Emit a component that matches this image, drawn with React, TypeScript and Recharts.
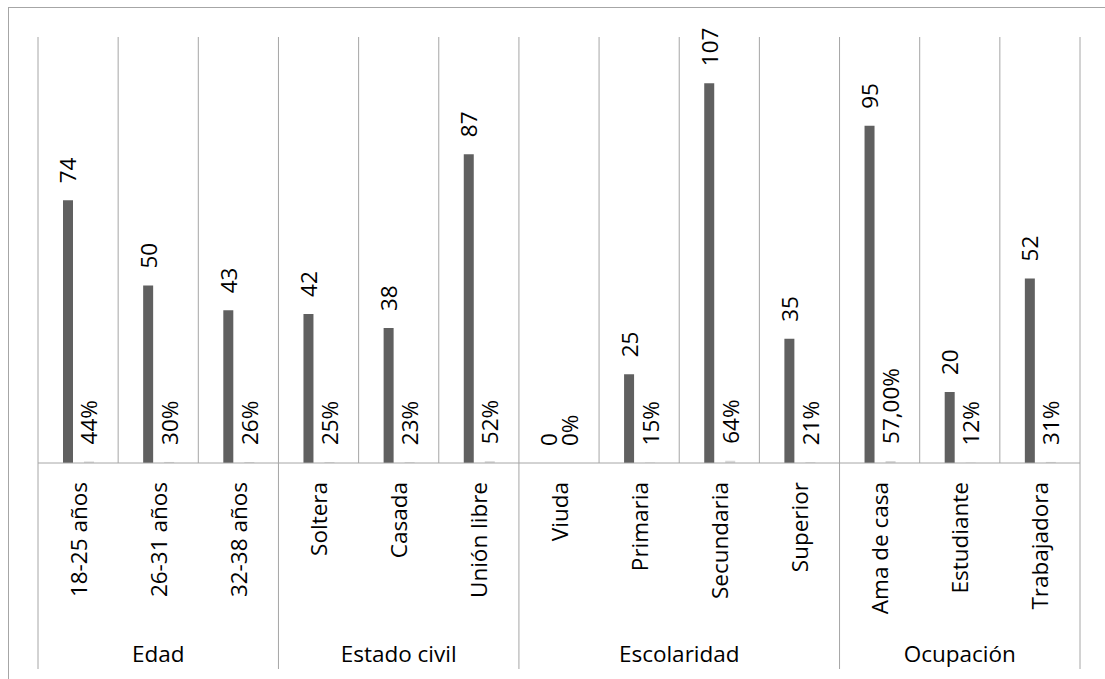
import { Bar, BarChart, CartesianGrid, LabelList, XAxis, YAxis } from "recharts";

const categories = [
  "18-25 años",
  "26-31 años",
  "32-38 años",
  "Soltera",
  "Casada",
  "Unión libre",
  "Viuda",
  "Primaria",
  "Secundaria",
  "Superior",
  "Ama de casa",
  "Estudiante",
  "Trabajadora",
];
const counts = [74, 50, 43, 42, 38, 87, 0, 25, 107, 35, 95, 20, 52];
const shares = [0.44, 0.3, 0.26, 0.25, 0.23, 0.52, 0, 0.15, 0.64, 0.21, 0.57, 0.12, 0.31];
const shareDecimals = [0, 0, 0, 0, 0, 0, 0, 0, 0, 0, 2, 0, 0];
const groupNames = ["Edad", "Estado civil", "Escolaridad", "Ocupación"];
const groupSizes = [3, 3, 4, 3];

const data = categories.map((name, i) => ({ name, count: counts[i], share: shares[i], idx: i }));

const WIDTH = 1096;
const HEIGHT = 671;
const MARGIN = { top: 29, right: 25, bottom: 0, left: 29 };
const AXIS_H = HEIGHT - 455;
const PLOT_W = WIDTH - MARGIN.left - MARGIN.right;
const BAND = PLOT_W / categories.length;
const LINE = "#a6a6a6";
const FONT = "'Open Sans', sans-serif";
const FONT_SIZE = 22.5;

// first category index of every group
const groupStarts = groupSizes.map((_, g) => groupSizes.slice(0, g).reduce((a, b) => a + b, 0));

const fmtShare = (d: { share: number; idx: number }) =>
  (d.share * 100).toFixed(shareDecimals[d.idx]).replace(".", ",") + "%";

// zero values still need a (hairline) rect so their labels are drawn
const hairline = (value: number) => (value === 0 ? 0.01 : 0);

function VerticalLabel({ x, y, width, value }: any) {
  const cx = Number(x) + Number(width) / 2;
  const top = Number(y) - 17;
  return (
    <text
      x={cx}
      y={top}
      transform={`rotate(-90 ${cx} ${top})`}
      textAnchor="start"
      dominantBaseline="central"
      fontFamily={FONT}
      fontSize={FONT_SIZE}
      fill="#000"
    >
      {value}
    </text>
  );
}

function CategoryTick({ x, y, payload, index }: any) {
  const i = payload?.index ?? index;
  const ly = y + 19;
  const g = groupStarts.indexOf(i);
  const left = x - BAND / 2;
  return (
    <g>
      <text
        x={x}
        y={ly}
        transform={`rotate(-90 ${x} ${ly})`}
        textAnchor="end"
        dominantBaseline="central"
        fontFamily={FONT}
        fontSize={FONT_SIZE}
        fill="#000"
      >
        {payload.value}
      </text>
      {g >= 0 && (
        <>
          <line x1={left} x2={left} y1={y} y2={y + 206} stroke={LINE} />
          <text
            x={left + (groupSizes[g] * BAND) / 2}
            y={y + 199}
            textAnchor="middle"
            fontFamily={FONT}
            fontSize={FONT_SIZE}
            fill="#000"
          >
            {groupNames[g]}
          </text>
        </>
      )}
      {i === categories.length - 1 && (
        <line x1={x + BAND / 2} x2={x + BAND / 2} y1={y} y2={y + 206} stroke={LINE} />
      )}
    </g>
  );
}

export default function App() {
  return (
    <div
      style={{
        position: "fixed",
        left: 8,
        top: 7,
        width: 1110,
        height: 690,
        borderLeft: `1px solid ${LINE}`,
        borderTop: `1px solid ${LINE}`,
        boxSizing: "border-box",
        background: "#fff",
      }}
    >
      <BarChart
        width={WIDTH}
        height={HEIGHT}
        data={data}
        margin={MARGIN}
        barSize={10}
        barGap={11}
        style={{ fontFamily: FONT }}
      >
        <CartesianGrid
          horizontal={false}
          stroke={LINE}
          verticalCoordinatesGenerator={({ offset }: any) =>
            categories.map((_, i) => offset.left + (i * offset.width) / categories.length).concat(offset.left + offset.width)
          }
        />
        <XAxis
          dataKey="name"
          interval={0}
          height={AXIS_H}
          tickLine={false}
          tickSize={0}
          tickMargin={0}
          axisLine={{ stroke: LINE }}
          tick={<CategoryTick />}
        />
        <YAxis hide domain={[0, 120]} />
        <Bar dataKey="count" fill="#606060" minPointSize={hairline} isAnimationActive={false}>
          <LabelList dataKey="count" content={<VerticalLabel />} />
        </Bar>
        <Bar dataKey="share" fill="#d9d9d9" minPointSize={hairline} isAnimationActive={false}>
          <LabelList dataKey={fmtShare} content={<VerticalLabel />} />
        </Bar>
      </BarChart>
    </div>
  );
}
